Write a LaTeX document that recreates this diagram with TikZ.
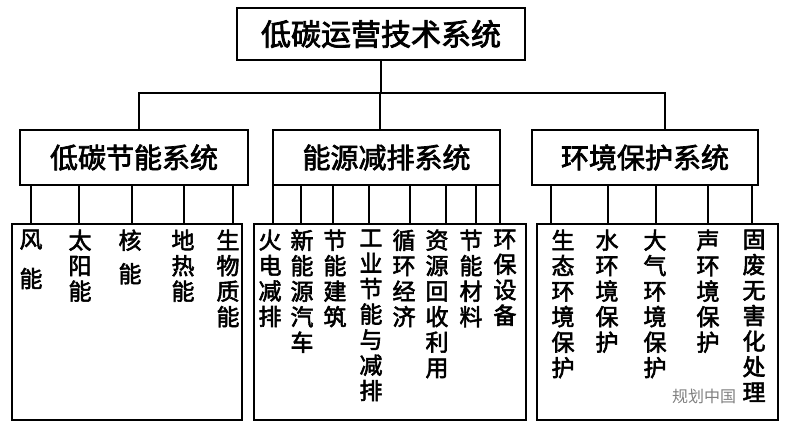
\documentclass[tikz,border=0pt]{standalone}
\usepackage{fontspec}
\newfontfamily\cjk{Noto Sans CJK SC}[FakeBold=2.5]
\newfontfamily\cjkl{Noto Sans CJK SC}
\begin{document}
\begin{tikzpicture}[x=1pt,y=-1pt,line width=1.2pt,
  box/.style={draw,rectangle,inner sep=0},
  leaf/.style={anchor=north,align=center,inner sep=0,font=\cjk\fontsize{23}{25.5}\selectfont},
  ln/.style={draw,line width=1.1pt}]
\useasboundingbox (0,0) rectangle (791,430);
\node[box,minimum width=288,minimum height=52,font=\cjk\fontsize{30}{32}\selectfont] (top) at (381,34) {低碳运营技术系统};
\node[box,minimum width=228,minimum height=55,font=\cjk\fontsize{28}{30}\selectfont] (A) at (134,157.5) {低碳节能系统};
\node[box,minimum width=227,minimum height=55,font=\cjk\fontsize{28}{30}\selectfont] (B) at (386.5,157.5) {能源减排系统};
\node[box,minimum width=226,minimum height=55,font=\cjk\fontsize{28}{30}\selectfont] (C) at (645,157.5) {环境保护系统};
\coordinate (j) at (381,93);
\draw[ln] (top.south) -- (j);
\draw[ln] (139,130) -- (139,93) -- (665,93) -- (665,130);
\draw[ln] (380,93) -- (380,130);
\node[box,minimum width=230,minimum height=196] (LA) at (127,322) {};
\node[box,minimum width=272,minimum height=196] (LB) at (390,322) {};
\node[box,minimum width=241,minimum height=196] (LC) at (657.5,322) {};
\foreach \x in {31,79,132,184,233} \draw[ln] (\x,185) -- (\x,224);
\foreach \x in {273,301,333,369,410,446,476,500} \draw[ln] (\x,185) -- (\x,224);
\foreach \x in {551,608,656,708,752} \draw[ln] (\x,185) -- (\x,224);
\node[leaf] (a1) at (31,229) {风\\[14pt]能};
\node[leaf] (a2) at (80,229) {太\\阳\\能};
\node[leaf] (a3) at (130,229) {核\\[8pt]能};
\node[leaf] (a4) at (183,229) {地\\热\\能};
\node[leaf] (a5) at (228,229) {生\\物\\质\\能};
\node[leaf] (b1) at (270,229) {火\\电\\减\\排};
\node[leaf] (b2) at (302,229) {新\\能\\源\\汽\\车};
\node[leaf] (b3) at (335,229) {节\\能\\建\\筑};
\node[leaf] (b4) at (371,229) {工\\业\\节\\能\\与\\减\\排};
\node[leaf] (b5) at (404,229) {循\\环\\经\\济};
\node[leaf] (b6) at (437,229) {资\\源\\回\\收\\利\\用};
\node[leaf] (b7) at (471,229) {节\\能\\材\\料};
\node[leaf] (b8) at (505,229) {环\\保\\设\\备};
\node[leaf] (c1) at (563,229) {生\\态\\环\\境\\保\\护};
\node[leaf] (c2) at (607,229) {水\\环\\境\\保\\护};
\node[leaf] (c3) at (655,229) {大\\气\\环\\境\\保\\护};
\node[leaf] (c4) at (708,229) {声\\环\\境\\保\\护};
\node[leaf] (c5) at (754,229) {固\\废\\无\\害\\化\\处\\理};
\node[font=\cjkl\fontsize{16}{20}\selectfont,text=gray,inner sep=0] (wm) at (704,396) {规划中国};
\end{tikzpicture}
\end{document}
